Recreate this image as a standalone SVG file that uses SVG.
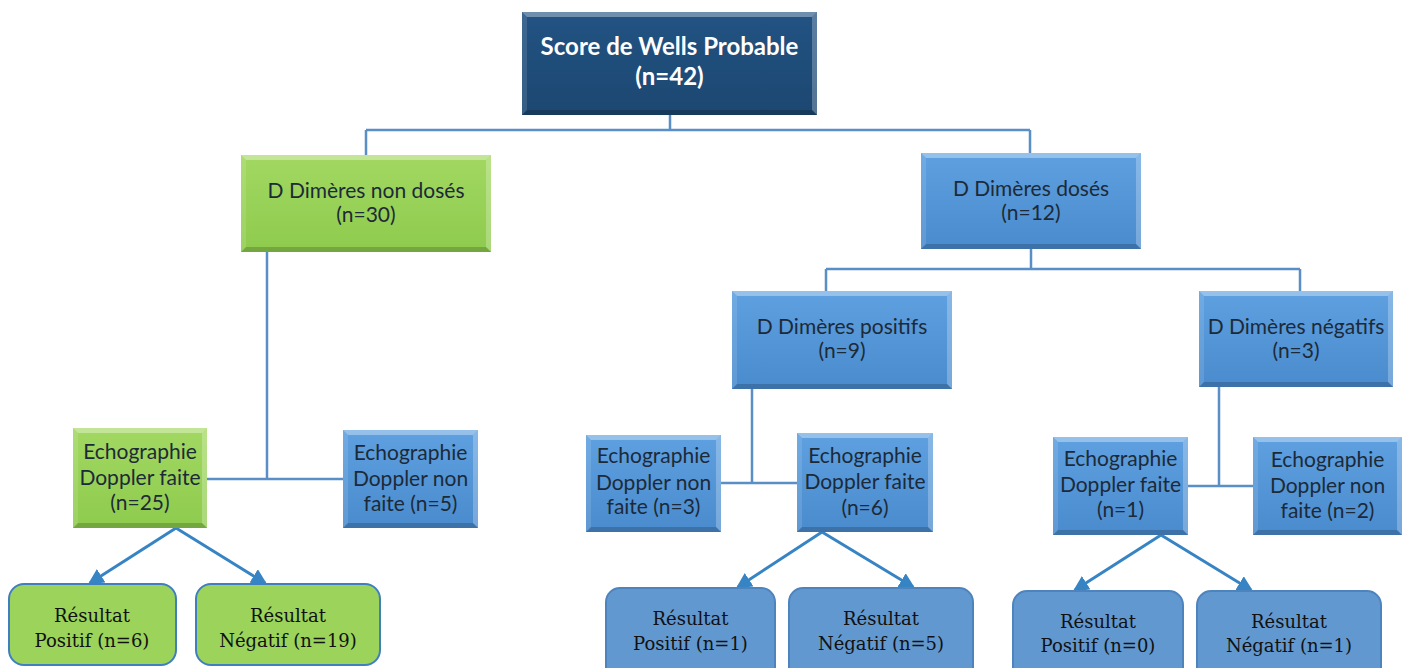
<svg xmlns="http://www.w3.org/2000/svg" width="1407" height="668" viewBox="0 0 1407 668">
<defs>
<linearGradient id="gBlue" x1="0" y1="0" x2="0" y2="1"><stop offset="0" stop-color="#5ea0e0"/><stop offset="1" stop-color="#4a8bcd"/></linearGradient>
<linearGradient id="gGreen" x1="0" y1="0" x2="0" y2="1"><stop offset="0" stop-color="#a2d862"/><stop offset="1" stop-color="#8ecb4d"/></linearGradient>
<linearGradient id="gDark" x1="0" y1="0" x2="0" y2="1"><stop offset="0" stop-color="#225383"/><stop offset="1" stop-color="#1c4771"/></linearGradient>
<marker id="ah" viewBox="0 0 12 12" refX="10" refY="6" markerWidth="16" markerHeight="16" markerUnits="userSpaceOnUse" orient="auto"><path d="M0 0L12 6L0 12Z" fill="#3784c4"/></marker>
</defs>
<style>
.blue{fill:url(#gBlue)}
.green{fill:url(#gGreen)}
.dark{fill:url(#gDark)}
.bt{fill:#ffffff;fill-opacity:.35}
.br{fill:#ffffff;fill-opacity:.25}
.bb{fill:#000000;fill-opacity:.18}
.bl{fill:#ffffff;fill-opacity:.12}
.t{font-family:Lato,"Liberation Sans",sans-serif;font-size:21px;fill:#1c2a38;text-anchor:middle}
.tb{font-family:Lato,"Liberation Sans",sans-serif;font-size:24px;font-weight:bold;fill:#ffffff;text-anchor:middle}
.ts{font-family:"DejaVu Serif","Liberation Serif",serif;font-size:18px;fill:#111111;text-anchor:middle}
.res{stroke-width:2}
.rg{fill:#9bd35b;stroke:#3f7fc0}
.rb{fill:#6198cf;stroke:#4e84be}
.tree{fill:none;stroke:#5a8ec6;stroke-width:2.5}
.arr{fill:none;stroke:#3784c4;stroke-width:3;marker-end:url(#ah)}
</style>
<g id="connectors">
<path class="tree" d="M670 115V130M366 130H1030M366 130V155M1030 130V153"/>
<path class="tree" d="M1031 249V269M826 269H1300M826 269V291M1300 269V291"/>
<path class="tree" d="M267 252V479M207 479H343"/>
<path class="tree" d="M752 389V483M721 483H797"/>
<path class="tree" d="M1219 387V486M1188 486H1253"/>
<path class="arr" d="M176 528L90 583"/>
<path class="arr" d="M176 528L265 583"/>
<path class="arr" d="M822 532L738 587"/>
<path class="arr" d="M822 532L913 587"/>
<path class="arr" d="M1161 535L1075 590"/>
<path class="arr" d="M1161 535L1251 590"/>
</g>
<g id="n-top">
<rect class="dark" x="522" y="12" width="295" height="103"/>
<path class="bt" d="M522 12H817L812 17H527Z"/><path class="br" d="M817 12V115L812 110V17Z"/><path class="bb" d="M522 115H817L812 110H527Z"/><path class="bl" d="M522 12V115L527 110V17Z"/>
<text class="tb" x="669.5" y="55">Score de Wells Probable</text>
<text class="tb" x="669.5" y="85">(n=42)</text>
</g>
<g id="n-nondoses">
<rect class="green" x="241" y="155" width="250" height="97"/>
<path class="bt" d="M241 155H491L486 160H246Z"/><path class="br" d="M491 155V252L486 247V160Z"/><path class="bb" d="M241 252H491L486 247H246Z"/><path class="bl" d="M241 155V252L246 247V160Z"/>
<text class="t" x="366" y="198">D Dimères non dosés</text>
<text class="t" x="366" y="222">(n=30)</text>
</g>
<g id="n-doses">
<rect class="blue" x="921" y="153" width="220" height="96"/>
<path class="bt" d="M921 153H1141L1136 158H926Z"/><path class="br" d="M1141 153V249L1136 244V158Z"/><path class="bb" d="M921 249H1141L1136 244H926Z"/><path class="bl" d="M921 153V249L926 244V158Z"/>
<text class="t" x="1031" y="196">D Dimères dosés</text>
<text class="t" x="1031" y="220">(n=12)</text>
</g>
<g id="n-positifs">
<rect class="blue" x="732" y="291" width="220" height="98"/>
<path class="bt" d="M732 291H952L947 296H737Z"/><path class="br" d="M952 291V389L947 384V296Z"/><path class="bb" d="M732 389H952L947 384H737Z"/><path class="bl" d="M732 291V389L737 384V296Z"/>
<text class="t" x="842" y="334">D Dimères positifs</text>
<text class="t" x="842" y="358">(n=9)</text>
</g>
<g id="n-negatifs">
<rect class="blue" x="1199" y="291" width="194" height="96"/>
<path class="bt" d="M1199 291H1393L1388 296H1204Z"/><path class="br" d="M1393 291V387L1388 382V296Z"/><path class="bb" d="M1199 387H1393L1388 382H1204Z"/><path class="bl" d="M1199 291V387L1204 382V296Z"/>
<text class="t" x="1296" y="334">D Dimères négatifs</text>
<text class="t" x="1296" y="358">(n=3)</text>
</g>
<g id="n-faite25">
<rect class="green" x="73" y="428" width="134" height="100"/>
<path class="bt" d="M73 428H207L202 433H78Z"/><path class="br" d="M207 428V528L202 523V433Z"/><path class="bb" d="M73 528H207L202 523H78Z"/><path class="bl" d="M73 428V528L78 523V433Z"/>
<text class="t" x="140" y="459">Echographie</text>
<text class="t" x="140" y="485">Doppler faite</text>
<text class="t" x="140" y="510">(n=25)</text>
</g>
<g id="n-nonfaite5">
<rect class="blue" x="343" y="430" width="135" height="98"/>
<path class="bt" d="M343 430H478L473 435H348Z"/><path class="br" d="M478 430V528L473 523V435Z"/><path class="bb" d="M343 528H478L473 523H348Z"/><path class="bl" d="M343 430V528L348 523V435Z"/>
<text class="t" x="410.5" y="460">Echographie</text>
<text class="t" x="410.5" y="486">Doppler non</text>
<text class="t" x="410.5" y="511">faite (n=5)</text>
</g>
<g id="n-nonfaite3">
<rect class="blue" x="586" y="435" width="135" height="97"/>
<path class="bt" d="M586 435H721L716 440H591Z"/><path class="br" d="M721 435V532L716 527V440Z"/><path class="bb" d="M586 532H721L716 527H591Z"/><path class="bl" d="M586 435V532L591 527V440Z"/>
<text class="t" x="653.5" y="463">Echographie</text>
<text class="t" x="653.5" y="490">Doppler non</text>
<text class="t" x="653.5" y="514">faite (n=3)</text>
</g>
<g id="n-faite6">
<rect class="blue" x="797" y="433" width="136" height="99"/>
<path class="bt" d="M797 433H933L928 438H802Z"/><path class="br" d="M933 433V532L928 527V438Z"/><path class="bb" d="M797 532H933L928 527H802Z"/><path class="bl" d="M797 433V532L802 527V438Z"/>
<text class="t" x="865" y="463">Echographie</text>
<text class="t" x="865" y="489">Doppler faite</text>
<text class="t" x="865" y="515">(n=6)</text>
</g>
<g id="n-faite1">
<rect class="blue" x="1053" y="437" width="135" height="98"/>
<path class="bt" d="M1053 437H1188L1183 442H1058Z"/><path class="br" d="M1188 437V535L1183 530V442Z"/><path class="bb" d="M1053 535H1188L1183 530H1058Z"/><path class="bl" d="M1053 437V535L1058 530V442Z"/>
<text class="t" x="1120.5" y="466">Echographie</text>
<text class="t" x="1120.5" y="492">Doppler faite</text>
<text class="t" x="1120.5" y="517">(n=1)</text>
</g>
<g id="n-nonfaite2">
<rect class="blue" x="1253" y="437" width="149" height="98"/>
<path class="bt" d="M1253 437H1402L1397 442H1258Z"/><path class="br" d="M1402 437V535L1397 530V442Z"/><path class="bb" d="M1253 535H1402L1397 530H1258Z"/><path class="bl" d="M1253 437V535L1258 530V442Z"/>
<text class="t" x="1327.5" y="467">Echographie</text>
<text class="t" x="1327.5" y="493">Doppler non</text>
<text class="t" x="1327.5" y="518">faite (n=2)</text>
</g>
<g id="r-pos6">
<rect class="res rg" x="9" y="584" width="167" height="81" rx="15"/>
<text class="ts" x="92" y="622">Résultat</text>
<text class="ts" x="92" y="647">Positif (n=6)</text>
</g>
<g id="r-neg19">
<rect class="res rg" x="196" y="584" width="184" height="81" rx="15"/>
<text class="ts" x="288" y="622">Résultat</text>
<text class="ts" x="288" y="647">Négatif (n=19)</text>
</g>
<g id="r-pos1">
<rect class="res rb" x="606" y="588" width="169" height="95" rx="14"/>
<text class="ts" x="690.5" y="625">Résultat</text>
<text class="ts" x="690.5" y="650">Positif (n=1)</text>
</g>
<g id="r-neg5">
<rect class="res rb" x="789" y="588" width="184" height="95" rx="14"/>
<text class="ts" x="881" y="625">Résultat</text>
<text class="ts" x="881" y="650">Négatif (n=5)</text>
</g>
<g id="r-pos0">
<rect class="res rb" x="1013" y="591" width="170" height="95" rx="14"/>
<text class="ts" x="1098" y="628">Résultat</text>
<text class="ts" x="1098" y="652">Positif (n=0)</text>
</g>
<g id="r-neg1">
<rect class="res rb" x="1197" y="591" width="184" height="95" rx="14"/>
<text class="ts" x="1289" y="628">Résultat</text>
<text class="ts" x="1289" y="652">Négatif (n=1)</text>
</g>
</svg>
